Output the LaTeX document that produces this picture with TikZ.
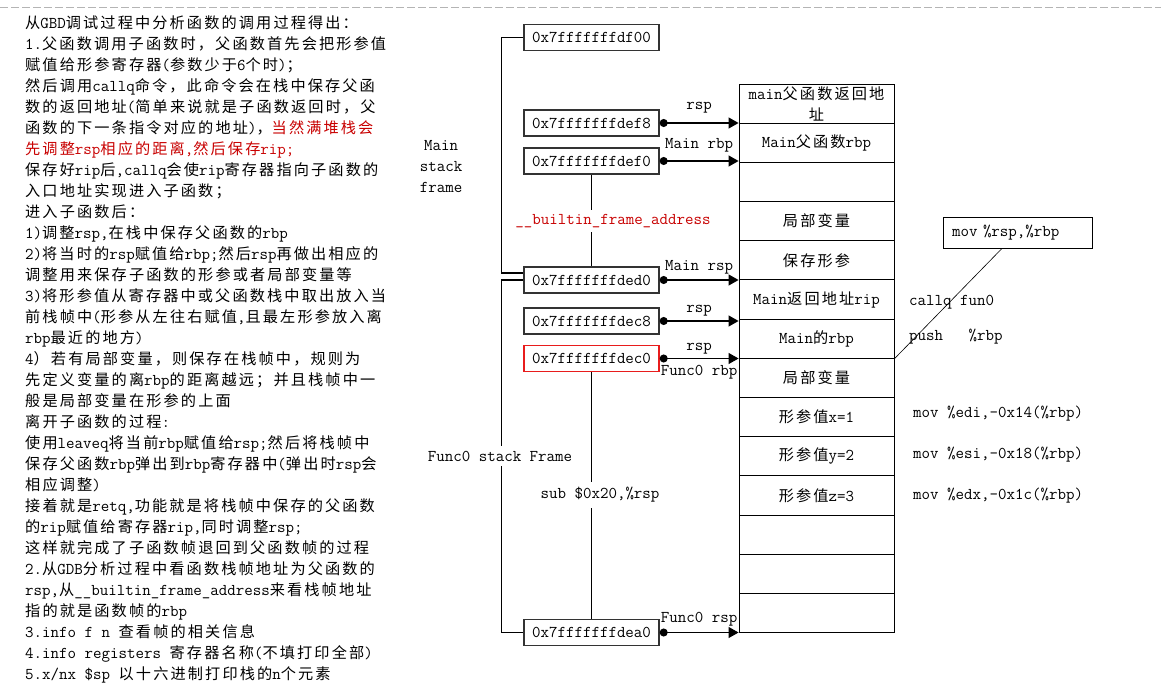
\documentclass[tikz,border=0pt]{standalone}
\usepackage{fontspec}
\usetikzlibrary{arrows.meta}
\newfontfamily\cjk{Noto Sans CJK SC}[Scale=0.92,LetterSpace=14]
% CJK characters switch to \cjk by themselves
\XeTeXinterchartokenstate=1
\newcount\cc
\def\setclass#1#2#3{\cc=#1\relax\loop\XeTeXcharclass\cc=#3\relax\ifnum\cc<#2\advance\cc by 1\relax\repeat}
\setclass{0}{"2FFF}{0}
\setclass{"3000}{"303F}{7}
\setclass{"4E00}{"9FFF}{7}
\setclass{"FF00}{"FFEF}{7}
\XeTeXinterchartoks 0 7 = {\cjk}
\XeTeXinterchartoks 4095 7 = {\cjk}
\XeTeXinterchartoks 7 0 = {\ttfamily}
\XeTeXinterchartoks 7 4095 = {\ttfamily}
\definecolor{cred}{RGB}{200,0,0}
\definecolor{cboxred}{RGB}{232,28,28}
\definecolor{cdash}{RGB}{180,180,180}
\tikzset{stackfig/.style={x=1pt,y=-1pt,font=\ttfamily\fontsize{16.5}{21.03}\selectfont},
  addr/.style={draw=black!80,line width=1.4pt,minimum width=135pt,minimum height=26pt,inner sep=0pt},
  cell/.style={draw,line width=0.9pt,minimum width=155pt,minimum height=39.18pt,inner sep=0pt,align=center},
  ptr/.style={line width=1.2pt,{Circle[length=8pt]}-{Triangle[length=10pt,width=11pt]}},
  brk/.style={line width=1.3pt},
  tag/.style={inner sep=0pt}}

\begin{document}
\begin{tikzpicture}[stackfig]
    \useasboundingbox (0,0) rectangle (1161,700);
    \draw[cdash,line width=1pt,dash pattern=on 8pt off 3pt] (0,8) -- (1161,8);
    \node[tag,anchor=north west,align=left] (notes) at (25,15) {从GBD调试过程中分析函数的调用过程得出：\\
1.父函数调用子函数时，父函数首先会把形参值\\
赋值给形参寄存器(参数少于6个时)；\\
然后调用callq命令，此命令会在栈中保存父函\\
数的返回地址(简单来说就是子函数返回时，父\\
函数的下一条指令对应的地址)，\textcolor{cred}{当然满堆栈会}\\
\textcolor{cred}{先调整rsp相应的距离,然后保存rip;}\\
保存好rip后,callq会使rip寄存器指向子函数的\\
入口地址实现进入子函数；\\
进入子函数后：\\
1)调整rsp,在栈中保存父函数的rbp\\
2)将当时的rsp赋值给rbp;然后rsp再做出相应的\\
调整用来保存子函数的形参或者局部变量等\\
3)将形参值从寄存器中或父函数栈中取出放入当\\
前栈帧中(形参从左往右赋值,且最左形参放入离\\
rbp最近的地方)\\
4）若有局部变量，则保存在栈帧中，规则为\\
先定义变量的离rbp的距离越远；并且栈帧中一\\
般是局部变量在形参的上面\\
离开子函数的过程:\\
使用leaveq将当前rbp赋值给rsp;然后将栈帧中\\
保存父函数rbp弹出到rbp寄存器中(弹出时rsp会\\
相应调整)\\
接着就是retq,功能就是将栈帧中保存的父函数\\
的rip赋值给寄存器rip,同时调整rsp;\\
这样就完成了子函数帧退回到父函数帧的过程\\
2.从GDB分析过程中看函数栈帧地址为父函数的\\
rsp,从\_\_builtin\_frame\_address来看栈帧地址\\
指的就是函数帧的rbp\\
3.info f n 查看帧的相关信息\\
4.info registers 寄存器名称(不填打印全部)\\
5.x/nx \$sp 以十六进制打印栈的n个元素};
    % stack cells, top to bottom
    \foreach \txt [count=\i] in {{main父函数返回地\\址},Main父函数rbp,{},局部变量,保存形参,Main返回地址rip,Main的rbp,局部变量,形参值x=1,形参值y=2,形参值z=3,{},{},{}}
      \node[cell] (c\i) at (816.5,{84+39.18*(\i-0.5)}) {\txt};
    \node[addr] (a00) at (591.5,37.5) {0x7fffffffdf00};
    \node[addr] (af8) at (591.5,123) {0x7fffffffdef8};
    \node[addr] (af0) at (591.5,161) {0x7fffffffdef0};
    \node[addr] (ad0) at (591.5,280) {0x7fffffffded0};
    \node[addr] (ac8) at (591.5,321) {0x7fffffffdec8};
    \node[addr,draw=cboxred] (ac0) at (591.5,358.5) {0x7fffffffdec0};
    \node[addr] (aa0) at (591.5,632.5) {0x7fffffffdea0};
    \draw[ptr] (af8.east) -- (af8.east -| c1.west) node[tag,midway,above=9pt] {rsp};
    \draw[ptr] (af0.east) -- (af0.east -| c1.west) node[tag,midway,above=8pt] {Main rbp};
    \draw[ptr] (ad0.east) -- (ad0.east -| c1.west) node[tag,midway,above=5pt] {Main rsp};
    \draw[ptr] (ac8.east) -- (ac8.east -| c1.west) node[tag,midway,above=4.5pt] {rsp};
    \draw[ptr] (ac0.east) -- (ac0.east -| c1.west) node[tag,midway,above=4pt] {rsp}
      node[tag,midway,below=6pt] {Func0 rbp};
    \draw[ptr] (aa0.east) -- (aa0.east -| c1.west) node[tag,midway,above=6pt] {Func0 rsp};
    \draw[brk] (a00.west) -- ++(-22,0) |- ([yshift=7pt]ad0.west);
    \draw[brk] (ad0.west) -- ++(-22,0) |- (aa0.west);
    \node[align=center] (lmain) at (441,166.5) {Main\\stack\\frame};
    \node[fill=white,inner xsep=1pt,inner ysep=5pt] (lfunc) at (500,456) {Func0 stack Frame};
    \draw[brk] (af0.south) -- (ad0.north);
    \node[fill=white,text=cred,inner ysep=4pt] (lbuilt) at (613,221) {\_\_builtin\_frame\_address};
    \draw[brk] (ac0.south) -- (aa0.north);
    \node[fill=white,inner ysep=5pt] (lsub) at (600,495) {sub \$0x20,\%rsp};
    \node[draw,line width=0.8pt,minimum height=31pt,text width=131pt,inner xsep=9pt,align=left] (movbox) at (1017.5,232.5) {mov \%rsp,\%rbp};
    \draw[line width=0.6pt] ([xshift=-15.5pt]movbox.south) -- (c7.south east);
    \node[tag,anchor=west] (tcall) at (909,302) {callq fun0};
    \node[tag,anchor=west] (tpush) at (909,337) {push\ \ \ \%rbp};
    \node[tag,anchor=west] (tedi) at (913,414) {mov \%edi,-0x14(\%rbp)};
    \node[tag,anchor=west] (tesi) at (913,455) {mov \%esi,-0x18(\%rbp)};
    \node[tag,anchor=west] (tedx) at (913,496) {mov \%edx,-0x1c(\%rbp)};
  \end{tikzpicture}
\end{document}
